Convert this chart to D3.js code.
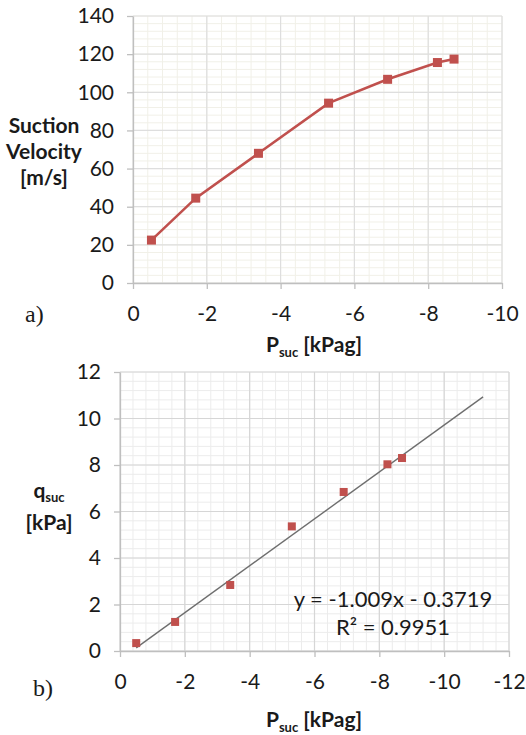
<!DOCTYPE html>
<html>
<head>
<meta charset="utf-8">
<script src="https://cdn.jsdelivr.net/npm/d3@7/dist/d3.min.js"></script>
<style>
  html, body { margin: 0; padding: 0; background: #ffffff; }
  svg { display: block; }
  .sans { font-family: Lato, "Open Sans", sans-serif; fill: #1a1a1a; }
  .serif { font-family: "Liberation Serif", "DejaVu Serif", serif; fill: #1a1a1a; }
</style>
</head>
<body>
<svg id="chart" width="526" height="735"></svg>
<script>
// ---------------- data ----------------
const psuc = [-0.5, -1.7, -3.4, -5.3, -6.9, -8.25, -8.7];          // P_suc [kPag]
const velocity = [22.5, 44.5, 68, 94.3, 106.8, 115.6, 117.4];      // Suction velocity [m/s]
const qsuc = [0.34, 1.25, 2.84, 5.36, 6.84, 8.03, 8.3];            // q_suc [kPa]
const topXTicks = [0, -2, -4, -6, -8, -10];
const topYTicks = [0, 20, 40, 60, 80, 100, 120, 140];
const botXTicks = [0, -2, -4, -6, -8, -10, -12];
const botYTicks = [0, 2, 4, 6, 8, 10, 12];
const trendSlope = -1.009;
const trendIntercept = -0.3719;
const trendRange = [-0.5, -11.2];
const eqText = "y = -1.009x - 0.3719";
const r2Text = "R\u00B2 = 0.9951";

const svg = d3.select("#chart");
const red = "#C0504D";

function range(a, b, step) {
  const out = [];
  const n = Math.round((b - a) / step);
  for (let i = 0; i <= n; i++) out.push(+(a + i * step).toFixed(6));
  return out;
}

function drawPanel(cfg) {
  const g = svg.append("g");
  const x = d3.scaleLinear().domain(cfg.xDomain).range(cfg.xRange);
  const y = d3.scaleLinear().domain(cfg.yDomain).range(cfg.yRange);

  const minorX = range(cfg.xDomain[0], cfg.xDomain[1], cfg.xMinor);
  const minorY = range(cfg.yDomain[0], cfg.yDomain[1], cfg.yMinor);
  g.append("g").selectAll("line").data(minorX).join("line")
    .attr("x1", d => x(d)).attr("x2", d => x(d))
    .attr("y1", cfg.yRange[0]).attr("y2", cfg.yRange[1])
    .attr("stroke", cfg.minorColor).attr("stroke-width", 1);
  g.append("g").selectAll("line").data(minorY).join("line")
    .attr("y1", d => y(d)).attr("y2", d => y(d))
    .attr("x1", cfg.xRange[0]).attr("x2", cfg.xRange[1])
    .attr("stroke", cfg.minorColor).attr("stroke-width", 1);
  g.append("g").selectAll("line").data(cfg.xTicks).join("line")
    .attr("x1", d => x(d)).attr("x2", d => x(d))
    .attr("y1", cfg.yRange[0]).attr("y2", cfg.yRange[1])
    .attr("stroke", cfg.majorColor).attr("stroke-width", 1.2);
  g.append("g").selectAll("line").data(cfg.yTicks).join("line")
    .attr("y1", d => y(d)).attr("y2", d => y(d))
    .attr("x1", cfg.xRange[0]).attr("x2", cfg.xRange[1])
    .attr("stroke", cfg.majorColor).attr("stroke-width", 1.2);

  const xAxis = d3.axisBottom(x).tickValues(cfg.xTicks).tickSize(6).tickSizeOuter(0).tickPadding(17)
    .tickFormat(d => d === 0 ? "0" : String(d));
  const yAxis = d3.axisLeft(y).tickValues(cfg.yTicks).tickSize(6).tickSizeOuter(0).tickPadding(13)
    .tickFormat(d => String(d));
  const gx = g.append("g").attr("transform", `translate(0,${cfg.yRange[0]})`).call(xAxis);
  const gy = g.append("g").attr("transform", `translate(${cfg.xRange[0]},0)`).call(yAxis);
  [gx, gy].forEach(a => {
    a.attr("font-family", null).attr("font-size", null);
    a.select(".domain").attr("stroke", "#bfbfbf").attr("stroke-width", 1.3);
    a.selectAll(".tick line").attr("stroke", "#bfbfbf").attr("stroke-width", 1.3);
    a.selectAll(".tick text").attr("class", "sans")
      .style("font-size", "21px").attr("fill", "#1a1a1a");
  });
  return { g, x, y };
}

// ---------------- panel a ----------------
const A = drawPanel({
  xDomain: [0, -10], xRange: [133, 502],
  yDomain: [0, 140], yRange: [283, 16],
  xMinor: -0.4, yMinor: 4,
  xTicks: topXTicks, yTicks: topYTicks,
  minorColor: "#f1f0e8", majorColor: "#dedede"
});
const ptsA = psuc.map((p, i) => ({ p, v: velocity[i] }));
A.g.append("path").datum(ptsA)
  .attr("d", d3.line().x(d => A.x(d.p)).y(d => A.y(d.v)))
  .attr("fill", "none").attr("stroke", red).attr("stroke-width", 2.6);
A.g.append("g").selectAll("rect").data(ptsA).join("rect")
  .attr("x", d => A.x(d.p) - 4.5).attr("y", d => A.y(d.v) - 4.5)
  .attr("width", 9).attr("height", 9).attr("fill", red);

// ---------------- panel b ----------------
const B = drawPanel({
  xDomain: [0, -12], xRange: [120, 509],
  yDomain: [0, 12], yRange: [651, 372],
  xMinor: -0.4, yMinor: 0.4,
  xTicks: botXTicks, yTicks: botYTicks,
  minorColor: "#ececec", majorColor: "#d6d6d6"
});
const ptsB = psuc.map((p, i) => ({ p, q: qsuc[i] }));
B.g.append("line")
  .attr("x1", B.x(trendRange[0])).attr("y1", B.y(trendSlope * trendRange[0] + trendIntercept))
  .attr("x2", B.x(trendRange[1])).attr("y2", B.y(trendSlope * trendRange[1] + trendIntercept))
  .attr("stroke", "#6e6e6e").attr("stroke-width", 1.4);
B.g.append("g").selectAll("rect").data(ptsB).join("rect")
  .attr("x", d => B.x(d.p) - 4).attr("y", d => B.y(d.q) - 4)
  .attr("width", 8).attr("height", 8).attr("fill", red);

B.g.append("text").attr("class", "sans").attr("x", 393).attr("y", 607).attr("text-anchor", "middle")
  .style("font-size", "22px").text(eqText);
B.g.append("text").attr("class", "sans").attr("x", 393).attr("y", 635).attr("text-anchor", "middle")
  .style("font-size", "22px").text(r2Text);

// ---------------- axis titles ----------------
function psucLabel(cx, baseline) {
  const t = svg.append("text").attr("class", "sans").attr("x", cx).attr("y", baseline).attr("text-anchor", "middle")
    .style("font-weight", "bold").style("font-size", "21px");
  t.append("tspan").text("P");
  t.append("tspan").style("font-size", "13px").attr("dy", 5).text("suc");
  t.append("tspan").attr("dy", -5).text(" [kPag]");
}
psucLabel(314, 352);
psucLabel(314, 727);

const yA = svg.append("text").attr("class", "sans").attr("text-anchor", "middle")
  .style("font-weight", "bold").style("font-size", "21px");
[["Suction", 133], ["Velocity", 159], ["[m/s]", 185]].forEach(([s, yy]) =>
  yA.append("tspan").attr("x", 44).attr("y", yy).text(s));

const qLab = svg.append("text").attr("class", "sans").attr("x", 49).attr("y", 498).attr("text-anchor", "middle")
  .style("font-weight", "bold").style("font-size", "21px");
qLab.append("tspan").text("q");
qLab.append("tspan").style("font-size", "13px").attr("dy", 4).text("suc");
svg.append("text").attr("class", "sans").attr("x", 49).attr("y", 530).attr("text-anchor", "middle")
  .style("font-weight", "bold").style("font-size", "21px").text("[kPa]");

svg.append("text").attr("class", "serif").attr("x", 25).attr("y", 322)
  .style("font-size", "24px").text("a)");
svg.append("text").attr("class", "serif").attr("x", 33).attr("y", 696)
  .style("font-size", "24px").text("b)");
</script>
</body>
</html>
